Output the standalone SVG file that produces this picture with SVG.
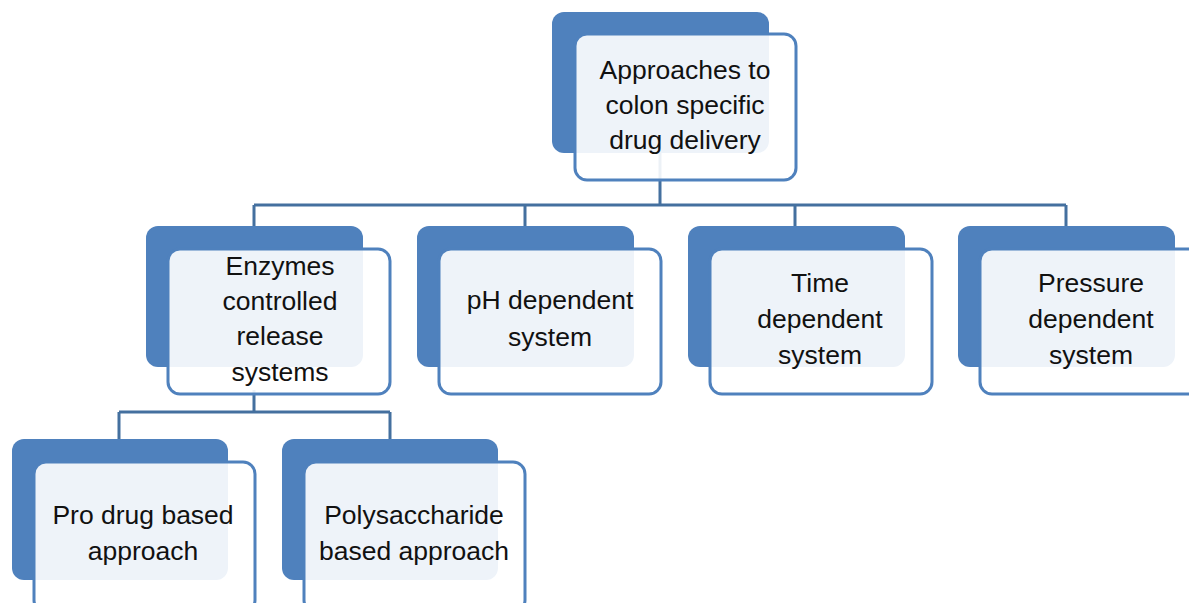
<svg xmlns="http://www.w3.org/2000/svg" width="1189" height="603" viewBox="0 0 1189 603">
<style>
.back{fill:#4f81bd;}
.front{fill:#ffffff;fill-opacity:0.9;stroke:#4f81bd;stroke-width:3;}
.conn{fill:none;stroke:#44709f;stroke-width:3;}
text{font-family:"Liberation Sans","DejaVu Sans",sans-serif;font-size:26.5px;fill:#111;text-anchor:middle;}
</style>
<rect width="1189" height="603" fill="#ffffff"/>
<g id="connectors">
<path class="conn" d="M660 150V205M254 205H1066M254 205V227M525 205V227M795 205V227M1066 205V227"/>
<path class="conn" d="M254 390V412M119 412H390M119 412V440M390 412V440"/>
</g>
<g id="n_root">
<rect class="back" x="552" y="12" width="217" height="141" rx="12"/>
<rect class="front" x="575" y="34" width="221" height="146" rx="12"/>
<text x="685" y="79">Approaches to</text>
<text x="685" y="114">colon specific</text>
<text x="685" y="149">drug delivery</text>
</g>
<g id="n_enzymes">
<rect class="back" x="146" y="226" width="217" height="141" rx="12"/>
<rect class="front" x="168" y="249" width="222" height="145" rx="12"/>
<text x="280" y="275">Enzymes</text>
<text x="280" y="310">controlled</text>
<text x="280" y="345">release</text>
<text x="280" y="381">systems</text>
</g>
<g id="n_ph">
<rect class="back" x="417" y="226" width="217" height="141" rx="12"/>
<rect class="front" x="439" y="249" width="222" height="145" rx="12"/>
<text x="550" y="309">pH dependent</text>
<text x="550" y="346">system</text>
</g>
<g id="n_time">
<rect class="back" x="688" y="226" width="217" height="141" rx="12"/>
<rect class="front" x="710" y="249" width="222" height="145" rx="12"/>
<text x="820" y="292">Time</text>
<text x="820" y="328">dependent</text>
<text x="820" y="364">system</text>
</g>
<g id="n_pressure">
<rect class="back" x="958" y="226" width="217" height="141" rx="12"/>
<rect class="front" x="980" y="249" width="222" height="145" rx="12"/>
<text x="1091" y="292">Pressure</text>
<text x="1091" y="328">dependent</text>
<text x="1091" y="364">system</text>
</g>
<g id="n_prodrug">
<rect class="back" x="12" y="439" width="216" height="141" rx="12"/>
<rect class="front" x="34" y="462" width="221" height="150" rx="12"/>
<text x="143" y="524">Pro drug based</text>
<text x="143" y="560">approach</text>
</g>
<g id="n_poly">
<rect class="back" x="282" y="439" width="216" height="141" rx="12"/>
<rect class="front" x="304" y="462" width="221" height="150" rx="12"/>
<text x="414" y="524">Polysaccharide</text>
<text x="414" y="560">based approach</text>
</g>
</svg>
